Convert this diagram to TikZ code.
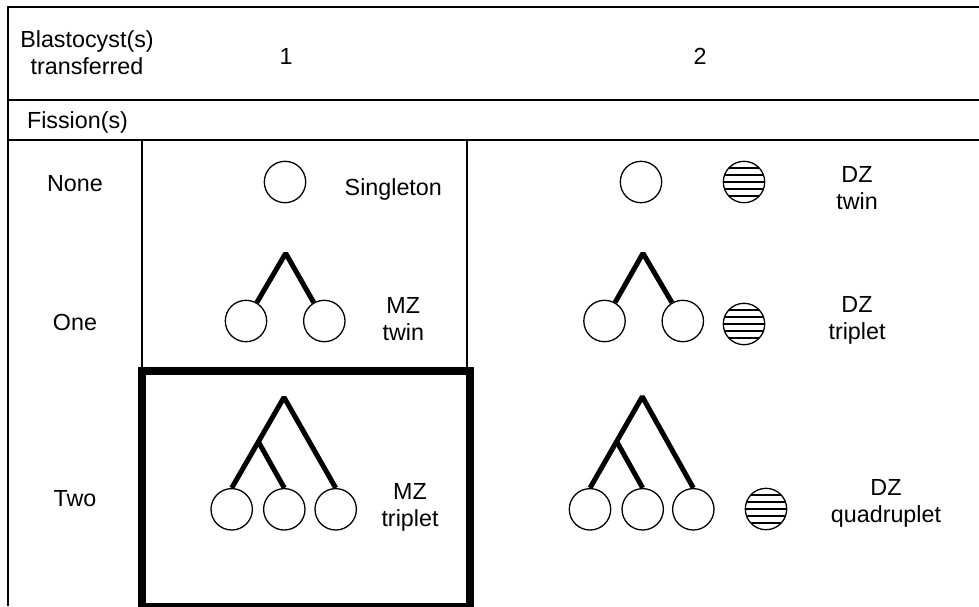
\documentclass[tikz,border=0pt]{standalone}
\usepackage{fontspec}
\setmainfont{Liberation Sans}
\usetikzlibrary{calc}
\begin{document}
\begin{tikzpicture}[x=1pt,y=-1pt,
  rule/.style={line width=1.2pt},
  ball/.style={circle,draw,line width=1.3pt,minimum size=41.4pt,inner sep=0pt},
  striped/.style={ball,path picture={\foreach \d in {-14,-7,0,7,14}{\draw[line width=1.2pt] ([xshift=-25pt,yshift=\d pt]path picture bounding box.center) -- ++(50pt,0pt);}}},
  branch/.style={line width=5pt,line join=bevel},
  lbl/.style={font=\fontsize{23.3}{27}\selectfont,align=center,inner sep=0pt},
]
\useasboundingbox (0,0) rectangle (979,606);

% table rules
\draw[rule] (979,7) -- (8,7) -- (8,606);
\draw[rule] (8,100) -- (979,100);
\draw[rule] (8,140) -- (979,140);
\draw[rule] (142,140) -- (142,371);
\draw[rule] (467,140) -- (467,371);
\draw[line width=8pt] (141.7,371) rectangle (469.7,606.5);

% header texts
\node[lbl] (hdr) at (87,52.4) {Blastocyst(s)\\transferred};
\node[lbl] (c1) at (286,56.6) {1};
\node[lbl] (c2) at (700,56.6) {2};
\node[lbl] (fis) at (77.5,122.3) {Fission(s)};
\node[lbl] (rnone) at (75,184) {None};
\node[lbl] (rone) at (75,322) {One};
\node[lbl] (rtwo) at (75,499) {Two};

% None row
\node[ball] (s1) at (285,182) {};
\node[lbl] (single) at (393.3,189) {Singleton};
\node[ball] (d1) at (641,182) {};
\node[striped] (d1s) at (744,182) {};
\node[lbl] (dztwin) at (857,188) {DZ\\twin};

% One row, left
\coordinate (mzA) at (285.7,253.3);
\node[ball] (m1) at (246,321) {};
\node[ball] (m2) at (324.3,321) {};
\draw[branch] (m1) -- (mzA) -- (m2);
\node[lbl] (mztwin) at (403.3,319.5) {MZ\\twin};

% One row, right
\coordinate (dtA) at (643,253.3);
\node[ball] (t1) at (604.5,321) {};
\node[ball] (t2) at (682.8,321) {};
\draw[branch] (t1) -- (dtA) -- (t2);
\node[striped] (t3) at (744,324) {};
\node[lbl] (dztrip) at (857,320) {DZ\\triplet};

% Two row, left
\coordinate (mtA) at (284,397.3);
\node[ball] (p1) at (231.7,509.3) {};
\node[ball] (p2) at (284.3,509.3) {};
\node[ball] (p3) at (335.7,509.3) {};
\draw[branch] (p1.north) -- (mtA) -- (p3.north);
\coordinate (mtB) at ($(mtA)!0.49!(p1.north)$);
\draw[branch] (mtB) -- (p2.north);
\node[lbl] (mztrip) at (410,507.5) {MZ\\triplet};

% Two row, right
\coordinate (qA) at (642.3,396.7);
\node[ball] (q1) at (590,509.3) {};
\node[ball] (q2) at (642.7,509.3) {};
\node[ball] (q3) at (693.3,509.3) {};
\draw[branch] (q1.north) -- (qA) -- (q3.north);
\coordinate (qB) at ($(qA)!0.49!(q1.north)$);
\draw[branch] (qB) -- (q2.north);
\node[striped] (q4) at (766,509) {};
\node[lbl] (dzquad) at (886,503.6) {DZ\\quadruplet};
\end{tikzpicture}
\end{document}
